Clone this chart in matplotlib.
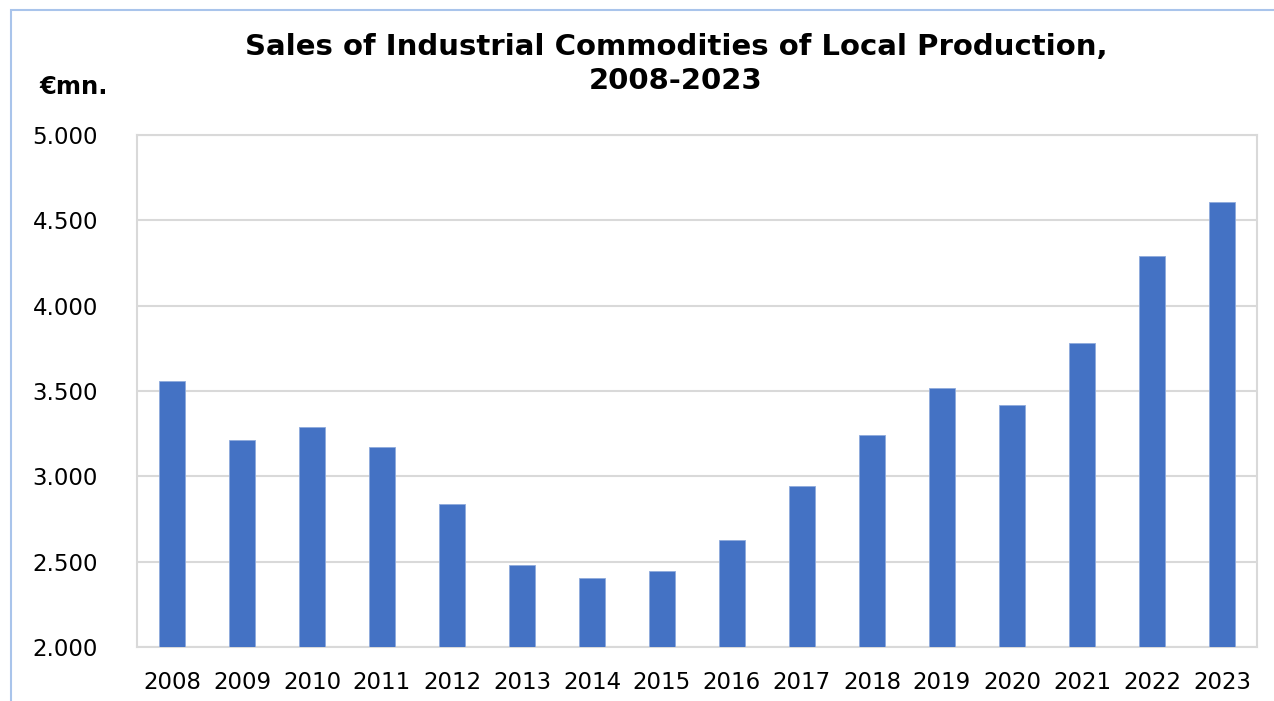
import matplotlib.pyplot as plt
from matplotlib.ticker import FuncFormatter, MultipleLocator
from matplotlib.patches import Rectangle

years = ['2008', '2009', '2010', '2011', '2012', '2013', '2014', '2015',
         '2016', '2017', '2018', '2019', '2020', '2021', '2022', '2023']
sales = [3558, 3213, 3289, 3172, 2838, 2480, 2404, 2445,
         2627, 2943, 3242, 3518, 3418, 3781, 4291, 4607]

fig = plt.figure(figsize=(12.74, 7.01), dpi=100)
ax = fig.add_axes([137/1274, 54/701, 1120/1274, 512/701])

ax.bar(range(len(years)), sales, width=0.36, color='#4472C4',
       edgecolor='#8FAADC', linewidth=0.6, zorder=3)

ax.set_xlim(-0.5, len(years) - 0.5)
ax.set_ylim(2000, 5000)
ax.yaxis.set_major_locator(MultipleLocator(500))
ax.yaxis.set_major_formatter(FuncFormatter(lambda v, p: f'{int(v):,}'.replace(',', '.')))
ax.set_xticks(range(len(years)))
ax.set_xticklabels(years)

ax.grid(axis='y', color='#D9D9D9', linewidth=1.5, zorder=0)
for s in ax.spines.values():
    s.set_color('#D9D9D9')
    s.set_linewidth(1.5)
ax.tick_params(length=0, labelsize=16.5, colors='#000000')
ax.tick_params(axis='y', pad=28)
ax.tick_params(axis='x', pad=17)

fig.text(676/1274, 1 - 64/701, 'Sales of Industrial Commodities of Local Production,\n2008-2023',
         ha='center', va='center', fontsize=21, fontweight='bold', linespacing=1.25)
fig.text(74/1274, 1 - 87/701, '€mn.', ha='center', va='center', fontsize=17.5, fontweight='bold')

# outer chart frame (partly cut off in the original)
fig.patches.append(Rectangle((11/1274, -0.1), 1.2, (1 - 10/701) + 0.1,
                             transform=fig.transFigure, fill=False,
                             edgecolor='#A9C4EB', linewidth=1.5))

fig.savefig('out.png', dpi=100)
